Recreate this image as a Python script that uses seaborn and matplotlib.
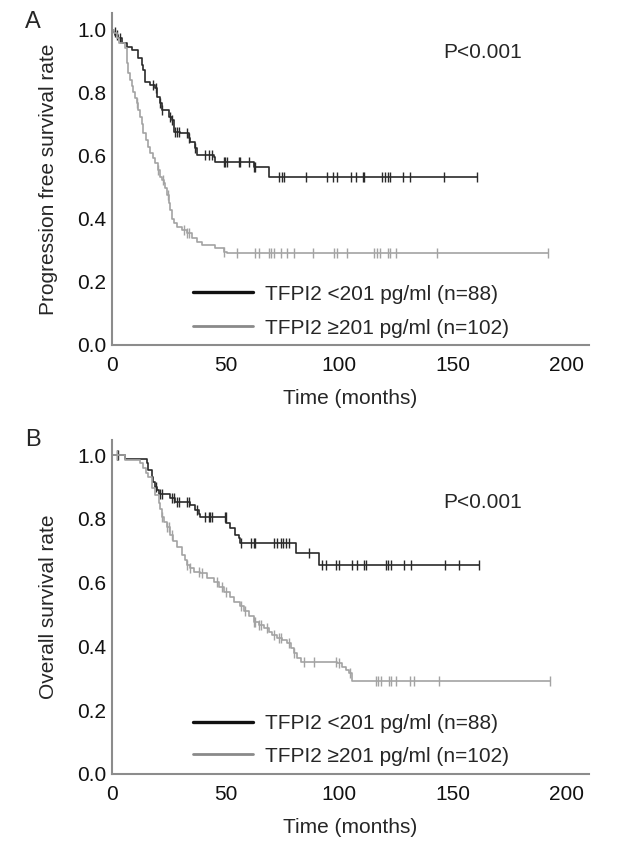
import numpy as np
import pandas as pd
import seaborn as sns
from matplotlib import pyplot as plt
from matplotlib.lines import Line2D

# progression free survival, TFPI2 <201 (step times / survival after step)
pfs_low_t = [0, 0.6, 1.5, 2.8, 4.3, 6.5, 8.7, 11.6, 13.1, 13.8, 14.6, 16.8, 19.0, 19.7, 21.2, 21.9,
             24.9, 26.4, 27.1, 30.0, 33.7, 34.4, 36.6, 37.4, 44.7, 45.5, 62.4, 69.0]
pfs_low_s = [1.0, 0.995, 0.985, 0.975, 0.96, 0.947, 0.937, 0.91, 0.89, 0.873, 0.836, 0.825, 0.815, 0.788,
             0.767, 0.746, 0.725, 0.714, 0.677, 0.672, 0.656, 0.645, 0.624, 0.603, 0.598, 0.582, 0.566, 0.534]
pfs_low_end = 160.7
pfs_low_cens = [1.3, 2.1, 3.5, 18.2, 19.3, 21.2, 21.9, 25.6, 26.4, 27.8, 28.6, 29.3, 33.0, 33.7, 36.6,
                41.1, 42.5, 44.0, 49.2, 49.9, 50.6, 55.8, 56.5, 60.2, 62.4, 63.1, 73.4, 74.9, 75.6, 85.5,
                94.5, 97.5, 99.2, 105.0, 107.3, 110.3, 111.0, 119.0, 120.0, 121.3, 122.5, 128.0, 131.0,
                146.0, 160.7]

# progression free survival, TFPI2 >=201
pfs_high_t = [0, 1.0, 2.0, 3.0, 5.7, 6.5, 7.2, 7.9, 8.6, 9.4, 10.2, 10.9, 11.6, 12.4, 13.1, 13.8, 14.9,
              16.0, 16.8, 17.9, 19.0, 20.1, 21.2, 22.0, 22.7, 23.4, 24.1, 24.9, 25.6, 26.4, 27.5, 28.6,
              30.8, 33.0, 35.2, 37.4, 39.6, 45.5, 49.1, 50.6]
pfs_high_s = [1.0, 0.99, 0.975, 0.96, 0.942, 0.894, 0.865, 0.841, 0.822, 0.804, 0.785, 0.767, 0.746,
              0.725, 0.70, 0.672, 0.65, 0.63, 0.609, 0.593, 0.577, 0.555, 0.534, 0.523, 0.513, 0.497,
              0.475, 0.45, 0.429, 0.40, 0.387, 0.376, 0.365, 0.355, 0.339, 0.328, 0.317, 0.307, 0.296, 0.291]
pfs_high_end = 191.9
pfs_high_cens = [11.2, 20.1, 22.4, 24.5, 31.5, 33.2, 34.1, 49.1, 55.0, 63.1, 64.6, 69.0, 70.0, 71.2,
                 74.2, 77.1, 80.0, 88.4, 97.7, 99.2, 103.6, 115.4, 116.7, 117.9, 121.3, 122.4, 125.0,
                 143.0, 191.9]

# overall survival, TFPI2 <201
os_low_t = [0, 5.7, 15.3, 16.0, 17.5, 18.2, 19.0, 19.7, 20.5, 25.6, 27.8, 34.4, 36.6, 38.1, 38.9,
            50.4, 52.1, 54.3, 55.8, 56.5, 80.8, 91.1]
os_low_s = [1.0, 0.988, 0.974, 0.953, 0.932, 0.916, 0.90, 0.89, 0.878, 0.864, 0.854, 0.843, 0.828,
            0.815, 0.807, 0.786, 0.77, 0.749, 0.739, 0.723, 0.692, 0.655]
os_low_end = 161.5
os_low_cens = [2.1, 2.8, 19.3, 21.2, 21.9, 26.4, 27.1, 28.6, 29.3, 33.0, 33.7, 37.4, 41.1, 42.5, 43.3,
               44.0, 49.6, 50.0, 56.8, 61.0, 62.4, 63.1, 71.2, 72.6, 74.2, 75.4, 76.4, 77.9, 86.8, 92.6,
               94.0, 98.5, 99.9, 105.8, 108.0, 111.0, 111.6, 120.5, 121.6, 122.7, 128.7, 131.6, 146.8,
               152.9, 161.5]

# overall survival, TFPI2 >=201
os_high_t = [0, 5.7, 12.4, 13.8, 15.0, 16.0, 17.5, 19.0, 20.5, 21.2, 21.9, 23.0, 24.1, 25.6, 27.0,
             28.6, 30.8, 32.0, 33.0, 34.4, 35.9, 38.9, 41.8, 44.7, 47.0, 49.1, 52.1, 53.6, 56.5, 58.0,
             60.2, 62.4, 64.6, 66.8, 69.0, 70.5, 72.7, 74.9, 77.1, 78.6, 80.1, 81.5, 83.0, 99.2, 101.4,
             102.9, 104.3, 105.8]
os_high_s = [1.0, 0.984, 0.974, 0.958, 0.945, 0.932, 0.896, 0.875, 0.849, 0.83, 0.807, 0.79, 0.775,
             0.749, 0.73, 0.713, 0.687, 0.67, 0.655, 0.645, 0.634, 0.629, 0.613, 0.603, 0.587, 0.572,
             0.556, 0.54, 0.527, 0.512, 0.495, 0.477, 0.467, 0.457, 0.446, 0.436, 0.425, 0.42, 0.41,
             0.394, 0.378, 0.363, 0.352, 0.347, 0.336, 0.326, 0.316, 0.29]
os_high_end = 192.6
os_high_cens = [2.1, 21.9, 24.1, 24.9, 26.4, 33.0, 34.4, 38.1, 39.6, 46.2, 48.4, 50.0, 56.8, 58.7, 62.4,
                63.1, 64.6, 65.4, 68.3, 71.2, 73.4, 74.2, 77.9, 80.1, 84.5, 88.9, 98.5, 99.9, 104.6,
                116.1, 117.3, 118.5, 122.0, 123.0, 125.0, 131.3, 133.0, 143.8, 192.6]

labels = ['TFPI2 <201 pg/ml (n=88)', 'TFPI2 \u2265201 pg/ml (n=102)']
x_ticks = [0, 50, 100, 150, 200]
y_ticks = [0.0, 0.2, 0.4, 0.6, 0.8, 1.0]

dark = '#2a2a2a'
light = '#a3a3a3'
fs = 15

sns.set_style('white')
plt.rcParams['font.family'] = ['Liberation Sans', 'DejaVu Sans']


def km_frame(t, s, end):
    df = pd.DataFrame({'time': list(t) + [end], 'surv': list(s) + [s[-1]]})
    return df


def cens_frame(t, s, cens):
    idx = np.searchsorted(np.array(t), np.array(cens), side='right') - 1
    return pd.DataFrame({'time': cens, 'surv': np.array(s)[idx]})


def draw_panel(ax, curves, ylab, ytop, pval_y, leg_y, leg_space):
    for t, s, end, cens, col in curves:
        sns.lineplot(data=km_frame(t, s, end), x='time', y='surv', ax=ax, color=col,
                     drawstyle='steps-post', estimator=None, linewidth=1.2)
        cf = cens_frame(t, s, cens)
        ax.plot(cf['time'], cf['surv'], linestyle='none', marker='|', markersize=6.5,
                markeredgewidth=1.0, color=col)
    ax.set_xlim(0, 210)
    ax.set_ylim(0, ytop)
    ax.set_xticks(x_ticks)
    ax.set_yticks(y_ticks)
    ax.set_yticklabels([f'{v:.1f}' for v in y_ticks])
    ax.tick_params(axis='both', length=0, labelsize=fs, colors='#111111')
    ax.tick_params(axis='y', pad=4)
    ax.tick_params(axis='x', pad=8)
    ax.set_xlabel('Time (months)', fontsize=fs, labelpad=10)
    ax.set_ylabel(ylab, fontsize=fs, labelpad=14)
    for side in ['top', 'right']:
        ax.spines[side].set_visible(False)
    for side in ['left', 'bottom']:
        ax.spines[side].set_color('#8c8c8c')
        ax.spines[side].set_linewidth(1.5)
    ax.text(163, pval_y, 'P<0.001', fontsize=fs, ha='center', va='center')
    handles = [Line2D([], [], color='#111111', linewidth=2.4),
               Line2D([], [], color='#8a8a8a', linewidth=2.0)]
    ax.legend(handles, labels, loc='lower left', bbox_to_anchor=(0.13, leg_y), frameon=False,
              fontsize=fs, handlelength=2.9, handletextpad=0.55, labelspacing=leg_space)


fig = plt.figure(figsize=(6.24, 8.42), dpi=100)
ax1 = fig.add_axes([0.1795, 0.5903, 0.7645, 0.3943])
ax2 = fig.add_axes([0.1795, 0.0808, 0.7645, 0.3966])

draw_panel(ax1, [(pfs_low_t, pfs_low_s, pfs_low_end, pfs_low_cens, dark),
                 (pfs_high_t, pfs_high_s, pfs_high_end, pfs_high_cens, light)],
           'Progression free survival rate', 1.054, 0.927, -0.034, 0.72)
draw_panel(ax2, [(os_low_t, os_low_s, os_low_end, os_low_cens, dark),
                 (os_high_t, os_high_s, os_high_end, os_high_cens, light)],
           'Overall survival rate', 1.047, 0.85, -0.031, 0.66)

fig.text(0.053, 0.974, 'A', fontsize=17, ha='center', va='center')
fig.text(0.053, 0.477, 'B', fontsize=17, ha='center', va='center')

fig.savefig('out.png', dpi=100)
